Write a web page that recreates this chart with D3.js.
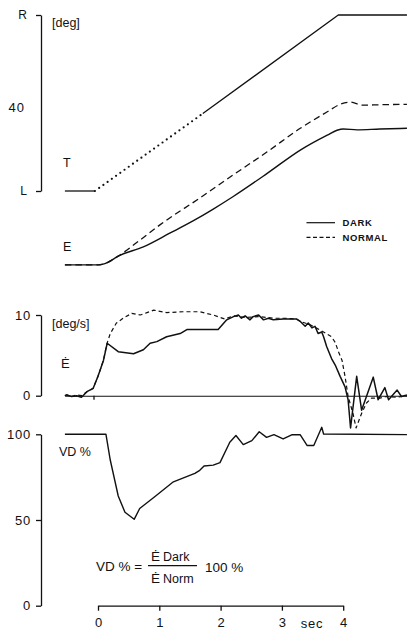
<!DOCTYPE html>
<html>
<head>
<meta charset="utf-8">
<script src="https://cdn.jsdelivr.net/npm/d3@7"></script>
<style>
  html, body { margin: 0; padding: 0; background: #fff; }
  svg { display: block; }
  text { font-family: "Liberation Sans", Arial, sans-serif; fill: #111; }
</style>
</head>
<body>
<svg id="chart" width="407" height="630"></svg>
<script>
// ---- Target position T (deg): flat, dotted ramp start, solid ramp, hold ----
const targetTime = [-0.54, -0.05, 1.71, 3.92, 5.04];
const targetPos  = [0, 0, 17.6, 40, 40];

// ---- Eye position E (deg, offset trace) ----
const eyeDarkTime = [-0.54, 0, 0.16, 0.33, 0.74, 1.17, 1.55, 1.88, 2.20, 2.76, 3.30, 3.74, 3.90, 4.00, 4.23, 4.60, 5.04];
const eyeDarkPos  = [-16.8, -16.8, -16.2, -14.8, -12.7, -9.6, -6.8, -4.1, -1.3, 4.0, 9.3, 12.7, 13.8, 14.1, 13.9, 14.1, 14.25];
const eyeNormTime = [-0.54, 0, 0.16, 0.33, 0.69, 1.01, 1.66, 2.20, 2.76, 3.30, 3.74, 3.95, 4.11, 4.32, 4.60, 5.04];
const eyeNormPos  = [-16.8, -16.8, -16.2, -14.8, -11.1, -7.7, -1.6, 3.6, 8.9, 14.25, 18.0, 19.7, 20.2, 19.5, 19.6, 19.7];

// ---- Eye velocity (deg/s) ----
const velDarkTime = [-0.54, -0.51, -0.43, -0.35, -0.27, -0.18, -0.08, 0.00, 0.09, 0.15, 0.33, 0.58, 0.74, 0.85, 0.96, 1.12, 1.34, 1.45, 1.66, 1.96, 2.10, 2.21,
  2.29, 2.34, 2.40, 2.48, 2.53, 2.62, 2.70, 2.78, 2.86, 3.02, 3.24, 3.30, 3.38, 3.43, 3.49, 3.54, 3.59, 3.65, 3.68, 3.73, 3.81, 3.87, 3.95, 4.03, 4.08,
  4.12, 4.22, 4.30, 4.49, 4.57, 4.68, 4.74, 4.88, 4.95, 5.04];
const velDark = [0, 0.1, -0.1, 0, -0.2, 0.5, 0.9, 2.4, 4.4, 6.5, 5.45, 5.2, 5.7, 6.5, 6.7, 7.3, 7.7, 8.2, 8.2, 8.2, 9.4, 9.8,
  10.0, 9.6, 9.9, 9.4, 9.8, 10.0, 9.4, 9.6, 9.4, 9.5, 9.5, 9.2, 8.6, 9.0, 8.4, 8.6, 7.7, 7.9, 7.3, 6.1, 4.6, 3.8, 2.4, 1.1, -0.5,
  -4.0, 2.4, -1.8, 2.3, -0.5, 1.0, -0.5, 0.7, -0.1, 0.1];
const velNormTime = [-0.54, -0.51, -0.43, -0.35, -0.27, -0.18, -0.08, 0.00, 0.09, 0.14, 0.20, 0.30, 0.41, 0.55, 0.69, 0.80, 0.91, 1.12, 1.39, 1.66, 1.88, 2.07,
  2.21, 2.40, 2.62, 2.86, 3.02, 3.24, 3.30, 3.46, 3.68, 3.81, 3.87, 3.92, 3.98, 4.03, 4.08, 4.16, 4.21, 4.30, 4.38, 4.46, 4.60, 4.71, 4.87, 5.04];
const velNorm = [0, 0.1, -0.1, 0.1, 0.0, 0.5, 0.9, 2.4, 4.4, 6.3, 7.7, 9.0, 9.6, 10.2, 10.0, 10.3, 10.6, 10.3, 10.4, 10.4, 10.0, 9.5,
  9.9, 9.7, 9.8, 9.6, 9.6, 9.5, 9.2, 8.8, 7.9, 7.3, 6.6, 5.5, 4.4, 2.4, -0.1, -2.2, -4.0, -2.2, -0.9, -0.3, -0.3, -0.1, -0.2, 0.0];

// ---- Velocity ratio VD % ----
const vdTime = [-0.54, 0.13, 0.20, 0.33, 0.44, 0.59, 0.68, 0.93, 1.23, 1.58, 1.66, 1.73, 1.88, 1.99, 2.15, 2.25, 2.37, 2.51, 2.63, 2.75, 2.87, 3.02, 3.16, 3.30, 3.41, 3.52, 3.65, 3.68, 5.04];
const vdPct  = [100, 100, 85, 64, 54.5, 50.4, 56.7, 63.7, 72.3, 77.2, 79, 81.5, 82, 83.5, 95.4, 99.3, 94, 96.3, 101.5, 98.2, 99.8, 97.3, 99.7, 99.7, 93.5, 93.5, 104.1, 100.2, 99.8];

// ---- Axis ticks ----
const posTicks = [0, 40], posTickLabels = ["L", "R"];
const velTicks = [0, 10];
const vdTicks = [0, 50, 100];
const timeTicks = [0, 1, 2, 3, 4];

const svg = d3.select("#chart");
const FONT = "Liberation Sans, Arial, sans-serif";

const x = d3.scaleLinear().domain([0, 4]).range([98, 343.2]);
const xFull = x.copy().domain([-0.54, 5.04]).range([x(-0.54), x(5.04)]);
const yPos = d3.scaleLinear().domain([0, 40]).range([191, 15]);
const yVel = d3.scaleLinear().domain([0, 10]).range([395.7, 315]);
const yVd  = d3.scaleLinear().domain([0, 100]).range([605.7, 434.3]);

const zip = (a, b) => a.map((t, i) => [t, b[i]]);

function styleAxis(g, size) {
  g.attr("font-family", FONT).attr("font-size", size);
  g.selectAll("path.domain").attr("stroke", "#111").attr("stroke-width", 1.3);
  g.selectAll(".tick line").attr("stroke", "#111").attr("stroke-width", 1.3);
  g.selectAll(".tick text").attr("fill", "#111");
}

function drawLine(pts, scaleY, opts) {
  const gen = d3.line().x(d => x(d[0])).y(d => scaleY(d[1])).curve(opts.curve || d3.curveLinear);
  svg.append("path")
    .attr("d", gen(pts))
    .attr("fill", "none")
    .attr("stroke", "#111")
    .attr("stroke-width", opts.width || 1.4)
    .attr("stroke-linejoin", "round")
    .attr("stroke-linecap", opts.cap || "butt")
    .attr("stroke-dasharray", opts.dash || null);
}

// ================= Position panel =================
const gPos = svg.append("g").attr("transform", "translate(41,0)")
  .call(d3.axisLeft(yPos).tickValues(posTicks).tickFormat((d, i) => posTickLabels[i]).tickSize(5).tickSizeOuter(0).tickPadding(9));
styleAxis(gPos, 12);
svg.append("text").attr("x", 25).attr("y", 112).attr("text-anchor", "end").attr("font-size", 13).attr("letter-spacing", 1).text("40");
svg.append("text").attr("x", 52).attr("y", 27).attr("font-size", 12.5).text("[deg]");

const targetPts = zip(targetTime, targetPos);
drawLine(targetPts.slice(0, 2), yPos, { width: 1.3 });
drawLine(targetPts.slice(1, 3), yPos, { width: 2.2, dash: "0,5.2", cap: "round" });
drawLine(targetPts.slice(2), yPos, { width: 1.3 });

drawLine(zip(eyeNormTime, eyeNormPos), yPos, { curve: d3.curveMonotoneX, dash: "6.5,4", width: 1.3 });
drawLine(zip(eyeDarkTime, eyeDarkPos), yPos, { curve: d3.curveMonotoneX, width: 1.4 });

svg.append("text").attr("x", 63).attr("y", 167).attr("font-size", 12.5).text("T");
svg.append("text").attr("x", 63).attr("y", 251).attr("font-size", 12.5).text("E");

// legend
const legend = [["DARK", null], ["NORMAL", "4,2.5"]];
legend.forEach((d, i) => {
  const ly = 222.7 + i * 14.6;
  svg.append("line").attr("x1", 306.5).attr("x2", 335).attr("y1", ly).attr("y2", ly)
    .attr("stroke", "#111").attr("stroke-width", 1.2).attr("stroke-dasharray", d[1]);
  svg.append("text").attr("x", 342.5).attr("y", ly + 3.5).attr("font-size", 9.5)
    .attr("font-weight", "bold").attr("letter-spacing", 0.6).text(d[0]);
});

// ================= Velocity panel =================
const gVel = svg.append("g").attr("transform", "translate(41,0)")
  .call(d3.axisLeft(yVel).tickValues(velTicks).tickSize(5).tickSizeOuter(0).tickPadding(5));
styleAxis(gVel, 13);
gVel.selectAll(".tick text").attr("letter-spacing", 0.8);

const gZero = svg.append("g").attr("transform", `translate(0,${yVel(0)})`)
  .call(d3.axisBottom(xFull).tickValues([0]).tickFormat("").tickSize(4).tickSizeOuter(0));
styleAxis(gZero, 10);
gZero.selectAll("path.domain").attr("stroke-width", 1.1);
gZero.select(".tick").attr("transform", `translate(${x(0) - 4},0)`);

svg.append("text").attr("x", 52).attr("y", 328).attr("font-size", 12.5).text("[deg/s]");
svg.append("text").attr("x", 61).attr("y", 368).attr("font-size", 13).text("Ė");

drawLine(zip(velNormTime, velNorm), yVel, { dash: "4,3", width: 1.2 });
drawLine(zip(velDarkTime, velDark), yVel, { width: 1.5 });

// ================= VD % panel =================
const gVd = svg.append("g").attr("transform", "translate(41,0)")
  .call(d3.axisLeft(yVd).tickValues(vdTicks).tickSize(5).tickSizeOuter(0).tickPadding(5));
styleAxis(gVd, 13);
gVd.selectAll(".tick text").attr("letter-spacing", 0.8);

drawLine(zip(vdTime, vdPct), yVd, { width: 1.4 });
svg.append("text").attr("x", 59).attr("y", 456).attr("font-size", 12.5).text("VD %");

// formula
svg.append("text").attr("x", 96).attr("y", 571).attr("font-size", 13.5).text("VD % =");
svg.append("text").attr("x", 151).attr("y", 560.5).attr("font-size", 13.5).text("Ė");
svg.append("text").attr("x", 163).attr("y", 560.5).attr("font-size", 12.5).text("Dark");
svg.append("line").attr("x1", 148).attr("x2", 197).attr("y1", 565.7).attr("y2", 565.7)
  .attr("stroke", "#111").attr("stroke-width", 1.2);
svg.append("text").attr("x", 151).attr("y", 583).attr("font-size", 13.5).text("Ė");
svg.append("text").attr("x", 163).attr("y", 583).attr("font-size", 12.5).text("Norm");
svg.append("text").attr("x", 205).attr("y", 572).attr("font-size", 13.5).text("100 %");

// time axis
const gTime = svg.append("g").attr("transform", `translate(0,${yVd(0)})`)
  .call(d3.axisBottom(x).tickValues(timeTicks).tickFormat(d3.format("d")).tickSize(5).tickSizeOuter(0).tickPadding(7));
styleAxis(gTime, 13);
svg.append("text").attr("x", 312).attr("y", 628).attr("text-anchor", "middle").attr("font-size", 13).attr("letter-spacing", 0.8).text("sec");
</script>
</body>
</html>
